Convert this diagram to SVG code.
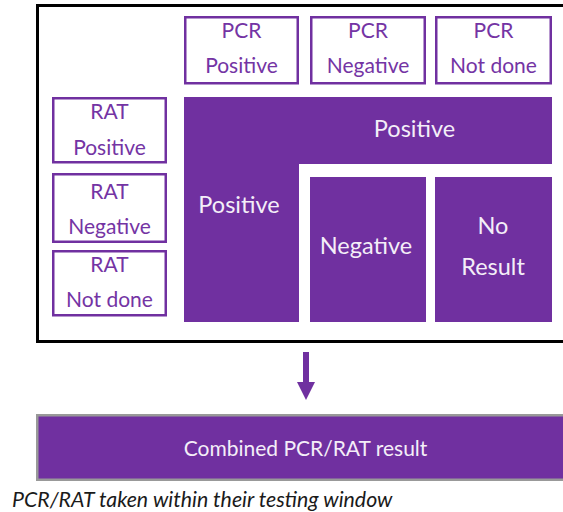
<svg xmlns="http://www.w3.org/2000/svg" width="563" height="512" viewBox="0 0 563 512">
<style>
.box{fill:#ffffff;stroke:#7030A0;stroke-width:2.5}
.fill{fill:#7030A0}
.t{font-family:Lato,"Liberation Sans",sans-serif;font-size:21px;fill:#7434A4;text-anchor:middle}
.w{font-family:Lato,"Liberation Sans",sans-serif;font-size:23.5px;fill:#F4EEF8;text-anchor:middle}
.cap{font-family:Lato,"Liberation Sans",sans-serif;font-size:21.3px;font-style:italic;fill:#1a1a1a}
</style>
<rect x="0" y="0" width="563" height="512" fill="#ffffff"/>
<rect id="frame" x="37.5" y="5.5" width="540" height="336" fill="none" stroke="#000000" stroke-width="3"/>
<g id="pcr-positive"><rect class="box" x="185.25" y="17.25" width="112.5" height="66"/><text class="t" x="241.5" y="38">PCR</text><text class="t" x="241.5" y="73">Positive</text></g>
<g id="pcr-negative"><rect class="box" x="311.25" y="17.25" width="113.5" height="66"/><text class="t" x="368" y="38">PCR</text><text class="t" x="368" y="73">Negative</text></g>
<g id="pcr-notdone"><rect class="box" x="436.25" y="17.25" width="114.5" height="66"/><text class="t" x="493.5" y="38">PCR</text><text class="t" x="493.5" y="73">Not done</text></g>
<g id="rat-positive"><rect class="box" x="53.25" y="98.25" width="112.5" height="64"/><text class="t" x="109.5" y="119">RAT</text><text class="t" x="109.5" y="155">Positive</text></g>
<g id="rat-negative"><rect class="box" x="53.25" y="174.25" width="112.5" height="67.5"/><text class="t" x="109.5" y="199">RAT</text><text class="t" x="109.5" y="234">Negative</text></g>
<g id="rat-notdone"><rect class="box" x="53.25" y="251.25" width="112.5" height="64"/><text class="t" x="109.5" y="272">RAT</text><text class="t" x="109.5" y="307">Not done</text></g>
<g id="positive"><path class="fill" d="M184,97 H552 V164 H299 V322 H184 Z"/><text class="w" x="414.5" y="137">Positive</text><text class="w" x="239" y="213">Positive</text></g>
<g id="negative"><rect class="fill" x="310" y="177" width="116" height="145"/><text class="w" x="366" y="254">Negative</text></g>
<g id="noresult"><rect class="fill" x="435" y="177" width="117" height="145"/><text class="w" x="493" y="234">No</text><text class="w" x="493" y="275">Result</text></g>
<g id="connectors"><rect class="fill" x="303" y="352" width="6" height="31"/><polygon class="fill" points="297,382 315,382 306,400"/></g>
<g id="combined"><rect x="37.25" y="415.25" width="540" height="64.5" fill="#7030A0" stroke="#999999" stroke-width="2.5"/><text class="w" x="305.5" y="456" style="font-size:21px">Combined PCR/RAT result</text></g>
<text class="cap" x="12" y="507">PCR/RAT taken within their testing window</text>
</svg>
